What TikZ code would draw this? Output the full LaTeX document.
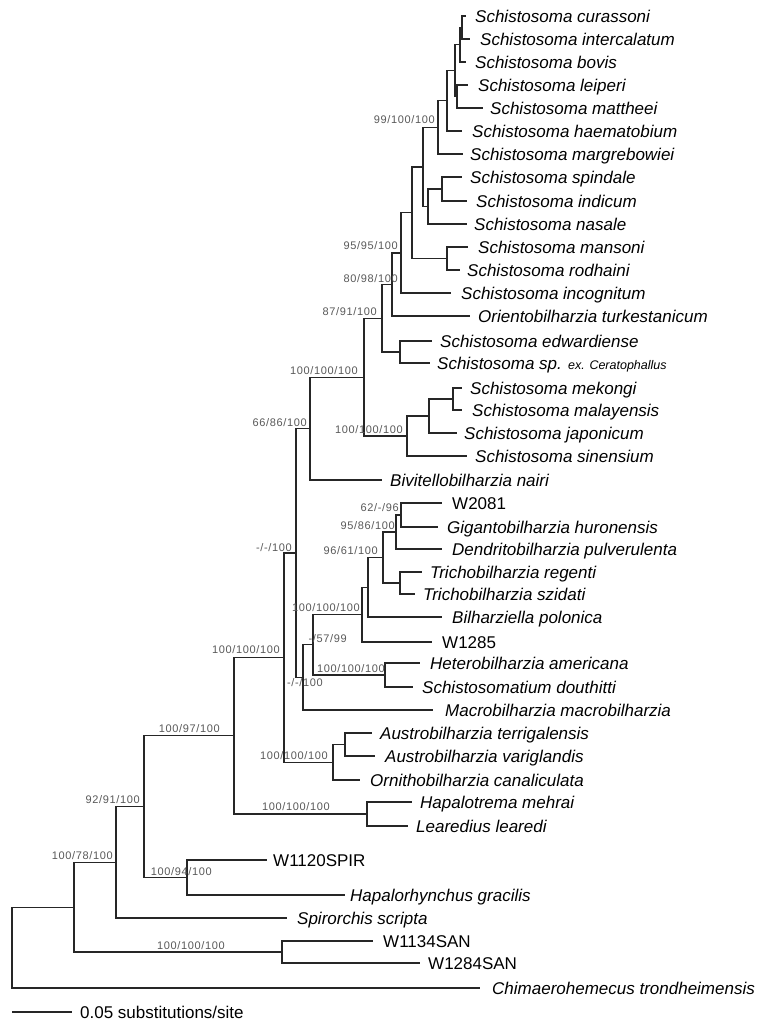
\documentclass[tikz,border=0pt]{standalone}
\usepackage{fontspec}
\setmainfont{Liberation Sans}
\newfontfamily\bsfont{Liberation Sans}[LetterSpace=6.0]
\newcommand\lf[5]{\coordinate (#1) at (#2,#3); \node[taxon] (#1t) at ({#4},{#3+6}) {#5};}
\newcommand\lo[5]{\coordinate (#1) at (#2,#3); \node[otu] (#1t) at ({#4},{#3+6}) {#5};}
\begin{document}
\begin{tikzpicture}[x=1pt,y=-1pt,
  br/.style={line width=1.2pt, draw=black!85},
  taxon/.style={anchor=base west, inner sep=0pt, font=\fontsize{17}{20}\selectfont\itshape},
  otu/.style={anchor=base west, inner sep=0pt, font=\fontsize{17}{20}\selectfont},
  bs/.style={anchor=east, inner sep=0pt, font=\bsfont\fontsize{11}{13}\selectfont, text=black!65}]
\useasboundingbox[fill=white] (0,0) rectangle (766,1026);
% leaves
\lf{l1}{466}{16}{475}{Schistosoma curassoni}
\lf{l2}{470}{39}{480}{Schistosoma intercalatum}
\lf{l3}{466}{62}{475}{Schistosoma bovis}
\lf{l4}{468}{85}{478}{Schistosoma leiperi}
\lf{l5}{483}{108}{490}{Schistosoma mattheei}
\lf{l6}{462}{131}{472}{Schistosoma haematobium}
\lf{l7}{463}{154}{470}{Schistosoma margrebowiei}
\lf{l8}{462}{177}{470}{Schistosoma spindale}
\lf{l9}{467}{201}{476}{Schistosoma indicum}
\lf{l10}{467}{224}{474}{Schistosoma nasale}
\lf{l11}{468}{247}{478}{Schistosoma mansoni}
\lf{l12}{460}{270}{467}{Schistosoma rodhaini}
\lf{l13}{451}{293}{461}{Schistosoma incognitum}
\lf{l14}{470}{316}{478}{Orientobilharzia turkestanicum}
\lf{l15}{432}{341}{440}{Schistosoma edwardiense}
\lf{l16}{430}{363}{437}{Schistosoma sp. {\fontsize{12.5}{14}\selectfont ex. Ceratophallus}}
\lf{l17}{462}{388}{470}{Schistosoma mekongi}
\lf{l18}{462}{410}{472}{Schistosoma malayensis}
\lf{l19}{457}{433}{464}{Schistosoma japonicum}
\lf{l20}{467}{456}{475}{Schistosoma sinensium}
\lf{l21}{382}{480}{390}{Bivitellobilharzia nairi}
\lo{l22}{442}{503}{452}{W2081}
\lf{l23}{438}{527}{447}{Gigantobilharzia huronensis}
\lf{l24}{442}{549}{452}{Dendritobilharzia pulverulenta}
\lf{l25}{422}{572}{430}{Trichobilharzia regenti}
\lf{l26}{415}{594}{423}{Trichobilharzia szidati}
\lf{l27}{442}{617}{452}{Bilharziella polonica}
\lo{l28}{432}{642}{442}{W1285}
\lf{l29}{420}{663}{430}{Heterobilharzia americana}
\lf{l30}{413}{687}{422}{Schistosomatium douthitti}
\lf{l31}{433}{710}{445}{Macrobilharzia macrobilharzia}
\lf{l32}{372}{733}{380}{Austrobilharzia terrigalensis}
\lf{l33}{375}{756}{385}{Austrobilharzia variglandis}
\lf{l34}{360}{780}{370}{Ornithobilharzia canaliculata}
\lf{l35}{412}{802}{420}{Hapalotrema mehrai}
\lf{l36}{408}{826}{416}{Learedius learedi}
\lo{l37}{267}{860}{273}{W1120SPIR}
\lf{l38}{345}{895}{350}{Hapalorhynchus gracilis}
\lf{l39}{287}{918}{297}{Spirorchis scripta}
\lo{l40}{373}{941}{383}{W1134SAN}
\lo{l41}{420}{963}{428}{W1284SAN}
\lf{l42}{480}{988}{492}{Chimaerohemecus trondheimensis}
% internal nodes
\coordinate (BB) at (462,27.5);
\coordinate (CC) at (460,44.75);
\coordinate (EE) at (457,96.5);
\coordinate (DD) at (455,70.6);
\coordinate (FF) at (447,100.8);
\coordinate (AA) at (438,127.4);
\coordinate (Z) at (442,189);
\coordinate (Y) at (428,206.5);
\coordinate (X) at (423,167);
\coordinate (Ma) at (447,258.5);
\coordinate (W) at (412,212.7);
\coordinate (V) at (401,252.9);
\coordinate (U) at (392,284.5);
\coordinate (Ed) at (400,352);
\coordinate (Q) at (382,318.2);
\coordinate (T) at (453,399);
\coordinate (S) at (429,416);
\coordinate (R) at (407,436);
\coordinate (P) at (364,377.1);
\coordinate (H) at (310,428.5);
\coordinate (O) at (401,515);
\coordinate (N) at (396,532);
\coordinate (Tr) at (400,583);
\coordinate (M) at (383,557.5);
\coordinate (L) at (368,587.2);
\coordinate (K) at (362,614.6);
\coordinate (HS) at (385,675);
\coordinate (J) at (313,644.8);
\coordinate (I) at (303,677.4);
\coordinate (G) at (296,553);
\coordinate (Au2) at (345,744.5);
\coordinate (Au) at (333,762.2);
\coordinate (F) at (284,657.6);
\coordinate (HL) at (367,814);
\coordinate (D) at (234,735.8);
\coordinate (E) at (187,877.5);
\coordinate (C) at (144,806.6);
\coordinate (B) at (116,862.3);
\coordinate (SA) at (282,952);
\coordinate (A) at (74,907.2);
\coordinate (root) at (12,947.6);
% branches
\foreach \p/\c in {root/A, root/l42, A/B, A/SA, SA/l40, SA/l41, B/C, B/l39, C/D, C/E,
  E/l37, E/l38, D/F, D/HL, HL/l35, HL/l36, F/G, F/Au, Au/Au2, Au/l34, Au2/l32, Au2/l33,
  G/H, G/I, I/J, I/l31, J/K, J/HS, HS/l29, HS/l30, K/L, K/l28, L/M, L/l27, M/N, M/Tr,
  Tr/l25, Tr/l26, N/O, N/l24, O/l22, O/l23, H/P, H/l21, P/Q, P/R, R/S, R/l20, S/T, S/l19,
  T/l17, T/l18, Q/U, Q/Ed, Ed/l15, Ed/l16, U/V, U/l14, V/W, V/l13, W/X, W/Ma, Ma/l11, Ma/l12,
  X/AA, X/Y, Y/Z, Y/l10, Z/l8, Z/l9, AA/FF, AA/l7, FF/DD, FF/l6, DD/CC, DD/EE, EE/l4, EE/l5,
  CC/BB, CC/l3, BB/l1, BB/l2}
  \draw[br] (\p) |- (\c);
% support values
\node[bs] (s1) at (435,120) {99/100/100};
\node[bs] (s2) at (398,246) {95/95/100};
\node[bs] (s3) at (398,279) {80/98/100};
\node[bs] (s4) at (377,312) {87/91/100};
\node[bs] (s5) at (358,371) {100/100/100};
\node[bs] (s6) at (403,430) {100/100/100};
\node[bs] (s7) at (307,423) {66/86/100};
\node[bs] (s8) at (399,508) {62/-/96};
\node[bs] (s9) at (395,526) {95/86/100};
\node[bs] (s10) at (378,551) {96/61/100};
\node[bs] (s11) at (292,548) {-/-/100};
\node[bs] (s12) at (360,608) {100/100/100};
\node[bs] (s13) at (347,639) {-/57/99};
\node[bs] (s14) at (385,669) {100/100/100};
\node[bs] (s15) at (323,683) {-/-/100};
\node[bs] (s16) at (280,650) {100/100/100};
\node[bs] (s17) at (220,729) {100/97/100};
\node[bs] (s18) at (328,756) {100/100/100};
\node[bs] (s19) at (330,807) {100/100/100};
\node[bs] (s20) at (140,800) {92/91/100};
\node[bs] (s21) at (113,856) {100/78/100};
\node[bs] (s22) at (212,872) {100/94/100};
\node[bs] (s23) at (225,946) {100/100/100};
% scale bar
\coordinate (sb1) at (12,1012);
\coordinate (sb2) at (72,1012);
\draw[br] (sb1) -- (sb2);
\node[otu] (sbt) at (80,1018) {0.05 substitutions/site};
\end{tikzpicture}
\end{document}
